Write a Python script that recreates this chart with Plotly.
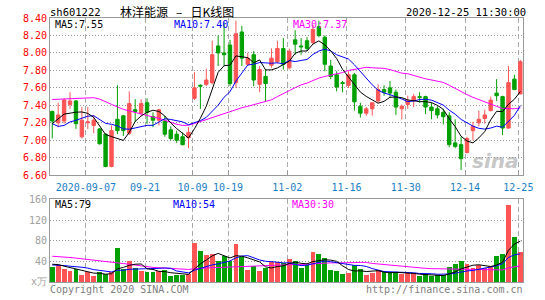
import plotly.graph_objects as go
import pandas as pd

# ---------------- data ----------------
opens = [7.33, 7.20, 7.22, 7.41, 7.45, 7.04, 7.20, 7.17, 7.13, 7.07,
         6.70, 7.24, 7.28, 7.08, 7.35, 7.31, 7.43, 7.27, 7.23, 7.22,
         7.12, 7.07, 7.04, 7.03, 7.48, 7.63, 7.64, 7.66, 8.08, 8.00,
         8.09, 7.66, 8.24, 7.87, 7.98, 7.64, 7.73, 7.86, 7.90, 8.05,
         7.83, 8.15, 8.08, 8.14, 8.12, 8.30, 8.18, 7.85, 7.75, 7.66,
         7.63, 7.75, 7.39, 7.31, 7.36, 7.45, 7.58, 7.60, 7.55, 7.36,
         7.41, 7.46, 7.50, 7.50, 7.38, 7.36, 7.32, 7.28, 6.97, 6.95,
         6.86, 7.11, 7.20, 7.25, 7.34, 7.54, 7.50, 7.14, 7.70, 7.53]
highs = [7.34, 7.43, 7.48, 7.55, 7.46, 7.38, 7.38, 7.29, 7.14, 7.08,
         7.17, 7.63, 7.29, 7.56, 7.47, 7.47, 7.48, 7.32, 7.36, 7.28,
         7.16, 7.11, 7.09, 7.15, 7.78, 7.64, 7.82, 8.14, 8.20, 8.35,
         8.15, 8.37, 8.31, 8.00, 8.02, 7.85, 7.81, 8.05, 8.14, 8.17,
         8.05, 8.26, 8.17, 8.18, 8.32, 8.37, 8.20, 7.92, 7.79, 7.68,
         7.79, 7.77, 7.43, 7.38, 7.43, 7.64, 7.63, 7.68, 7.58, 7.41,
         7.51, 7.53, 7.55, 7.51, 7.43, 7.39, 7.36, 7.32, 7.24, 7.04,
         7.04, 7.21, 7.34, 7.35, 7.50, 7.70, 7.51, 7.85, 7.75, 7.92]
lows = [7.02, 7.15, 7.19, 7.36, 7.13, 7.02, 7.13, 7.08, 6.95, 6.69,
        6.69, 7.07, 7.05, 7.06, 7.21, 7.28, 7.19, 7.15, 7.17, 7.04,
        7.00, 6.97, 6.94, 6.91, 7.46, 7.36, 7.62, 7.64, 7.85, 7.85,
        7.62, 7.60, 7.85, 7.85, 7.62, 7.55, 7.45, 7.83, 7.88, 7.81,
        7.81, 7.98, 7.98, 8.02, 8.10, 8.18, 7.79, 7.70, 7.56, 7.55,
        7.60, 7.34, 7.26, 7.28, 7.28, 7.43, 7.51, 7.49, 7.29, 7.24,
        7.36, 7.38, 7.43, 7.30, 7.24, 7.25, 7.18, 6.92, 6.91, 6.66,
        6.85, 7.00, 7.16, 7.19, 7.33, 7.45, 7.06, 7.13, 7.58, 7.53]
closes = [7.22, 7.29, 7.46, 7.45, 7.19, 7.23, 7.21, 7.23, 6.96, 6.70,
          7.11, 7.11, 7.11, 7.42, 7.33, 7.42, 7.32, 7.23, 7.35, 7.07,
          7.02, 7.00, 6.95, 7.09, 7.60, 7.62, 7.69, 7.98, 8.00, 7.98,
          7.65, 8.22, 7.94, 7.94, 7.69, 7.81, 7.65, 7.94, 8.05, 7.87,
          8.02, 8.10, 8.07, 8.05, 8.27, 8.20, 7.87, 7.73, 7.61, 7.65,
          7.75, 7.44, 7.31, 7.36, 7.43, 7.58, 7.55, 7.54, 7.38, 7.39,
          7.45, 7.50, 7.49, 7.38, 7.34, 7.29, 7.27, 6.95, 6.93, 6.79,
          7.02, 7.16, 7.24, 7.29, 7.46, 7.51, 7.14, 7.66, 7.58, 7.90]
volumes = [28, 32, 24.5, 20, 24.5, 13, 18, 10.5, 19, 15,
           18, 65, 24.5, 39, 25.5, 21, 18, 18, 21, 22.5,
           10.5, 13, 13, 15, 75, 59, 51, 53, 39, 50,
           40, 73, 48, 23, 29.5, 21, 25.5, 37, 37, 36,
           43.5, 39, 25.5, 32, 58, 53, 46.5, 22.5, 20, 15,
           17, 32, 24.5, 13, 17, 23, 18, 18, 18, 15,
           16, 16, 10.5, 15, 10.5, 13, 13, 27.5, 34, 40,
           34, 27, 32, 27, 30, 49, 54, 148, 87, 58]
# sessions before the visible window (inferred from the MA curves at the left edge)
prev_closes = [7.20, 7.37, 7.36, 7.10, 7.14, 7.12, 7.14, 7.45, 7.70, 7.90,
               8.00, 7.95, 7.95, 7.90, 7.85, 7.80, 7.85, 7.80, 7.75, 7.77,
               7.60, 7.35, 7.05, 7.00, 6.95, 7.02, 7.18, 7.40, 7.13]
prev_volumes = [45, 55, 50, 60, 48, 52, 47, 55, 47, 70,
                95, 85, 80, 75, 76, 70, 45, 40, 38, 35,
                33, 35, 32, 30, 28, 35, 40, 33, 36]

tick_index = [6, 16, 24, 30, 40, 50, 60, 70, 79]
tick_labels = ["2020-09-07", "09-21", "10-09", "10-19", "11-02",
               "11-16", "11-30", "12-14", "12-25"]
price_ticks = [6.6, 6.8, 7.0, 7.2, 7.4, 7.6, 7.8, 8.0, 8.2, 8.4]
vol_ticks = [0, 40, 80, 120, 160]
vol_tick_labels = ["x万", "40", "80", "120", "160"]

# ---------------- derived ----------------
n = len(closes)
idx = list(range(n))
cs = pd.Series(prev_closes + closes)
vs = pd.Series(prev_volumes + volumes)
ma = {k: cs.rolling(k).mean().iloc[-n:].tolist() for k in (5, 10, 30)}
vma = {k: vs.rolling(k).mean().iloc[-n:].tolist() for k in (5, 10, 30)}

RED = "#ff5555"
GREEN = "#00a000"
MONO = "DejaVu Sans Mono"
ma_colors = {5: "#000000", 10: "#0000ff", 30: "#ff00ff"}
bar_colors = [RED if c >= o else GREEN for o, c in zip(opens, closes)]

fig = go.Figure()
fig.add_trace(go.Candlestick(
    x=idx, open=opens, high=highs, low=lows, close=closes,
    increasing=dict(line=dict(color=RED, width=1), fillcolor=RED),
    decreasing=dict(line=dict(color=GREEN, width=1), fillcolor=GREEN),
    whiskerwidth=0, hoverinfo="skip", xaxis="x", yaxis="y"))
for k in (30, 10, 5):
    fig.add_trace(go.Scatter(x=idx, y=ma[k], mode="lines",
                             line=dict(color=ma_colors[k], width=1),
                             hoverinfo="skip", xaxis="x", yaxis="y"))
fig.add_trace(go.Bar(x=idx, y=volumes, marker=dict(color=bar_colors, line=dict(width=0)),
                     width=0.82, hoverinfo="skip", xaxis="x2", yaxis="y2"))
for k in (30, 10, 5):
    fig.add_trace(go.Scatter(x=idx, y=vma[k], mode="lines",
                             line=dict(color=ma_colors[k], width=1),
                             hoverinfo="skip", xaxis="x2", yaxis="y2"))

L, R, T, B = 50, 16, 18, 15
W, H = 545, 300
pw, ph = W - L - R, H - T - B


def px_x(px):
    return (px - L) / pw


def px_y(py):
    return (H - B - py) / ph


xr = [-0.38, n - 1 + 0.45]
grid_v = dict(showgrid=True, gridcolor="#aaaaaa", gridwidth=1, griddash="5px,3px",
              showline=True, mirror=True, linecolor="#999999", linewidth=1,
              zeroline=False, range=xr, tickmode="array",
              tickvals=[t - 1 / 3 for t in tick_index])
grid_h = dict(showgrid=True, gridcolor="#999999", gridwidth=1, griddash="1px,2px",
              showline=True, mirror=True, linecolor="#999999", linewidth=1,
              zeroline=False, ticks="")

fig.update_layout(
    width=W, height=H, margin=dict(l=L, r=R, t=T, b=B, pad=0),
    paper_bgcolor="white", plot_bgcolor="white", showlegend=False,
    bargap=0, boxgap=0.18,
    xaxis=dict(domain=[0, 1], anchor="y", ticktext=tick_labels,
               ticks="inside", ticklen=4, tickcolor="#999999",
               ticklabelstandoff=3,
               tickfont=dict(family=MONO, size=10, color="#1a80c8"),
               rangeslider=dict(visible=False), **grid_v),
    yaxis=dict(domain=[px_y(177), 1], range=[6.6, 8.4], tickmode="array",
               tickvals=price_ticks, ticktext=[f"{v:.2f}" for v in price_ticks],
               tickfont=dict(family=MONO, size=10, color="#ff0000"), **grid_h),
    xaxis2=dict(domain=[0, 1], anchor="y2", matches="x", showticklabels=False,
                ticks="", **grid_v),
    yaxis2=dict(domain=[0, px_y(201.5)], range=[0, 160], tickmode="array",
                tickvals=vol_ticks, ticktext=vol_tick_labels,
                tickfont=dict(family=MONO, size=10, color="#a0a0a0"), **grid_h),
)


def label(text, x, y, color="#000000", anchor="left", size=10, family=MONO, **kw):
    fig.add_annotation(text=text, x=px_x(x), y=px_y(y), xref="paper", yref="paper",
                       xanchor=anchor, yanchor="middle", showarrow=False,
                       borderpad=0, borderwidth=0,
                       font=dict(family=family, size=size, color=color, **kw))


NB = "\u00a0"
label("sh601222", 50, 11.5, size=10.5)
label("林洋能源" + NB * 3 + "–" + NB * 3 + "日K线图", 121, 11.5, size=12,
      family="Noto Sans CJK SC")
label("2020-12-25 11:30:00", 532, 11.5, anchor="right", size=10.5)
label("MA5:7.55", 55, 25)
label("MA10:7.40", 175.5, 25, color="#0000ff")
label("MA30:7.37", 296.5, 25, color="#ff00ff")
label("MA5:79", 55, 206.5)
label("MA10:54", 175, 206.5, color="#0000ff")
label("MA30:30", 295, 206.5, color="#ff00ff")
label("Copyright 2020 SINA.COM", 49.5, 293, color="#808080")
label("http://finance.sina.com.cn", 529, 293, color="#808080", anchor="right")
label("sina", 525, 163, color="rgba(150,150,150,0.55)", anchor="right", size=20,
      family="DejaVu Sans", style="italic", weight="bold")

fig.write_html("out.html")
